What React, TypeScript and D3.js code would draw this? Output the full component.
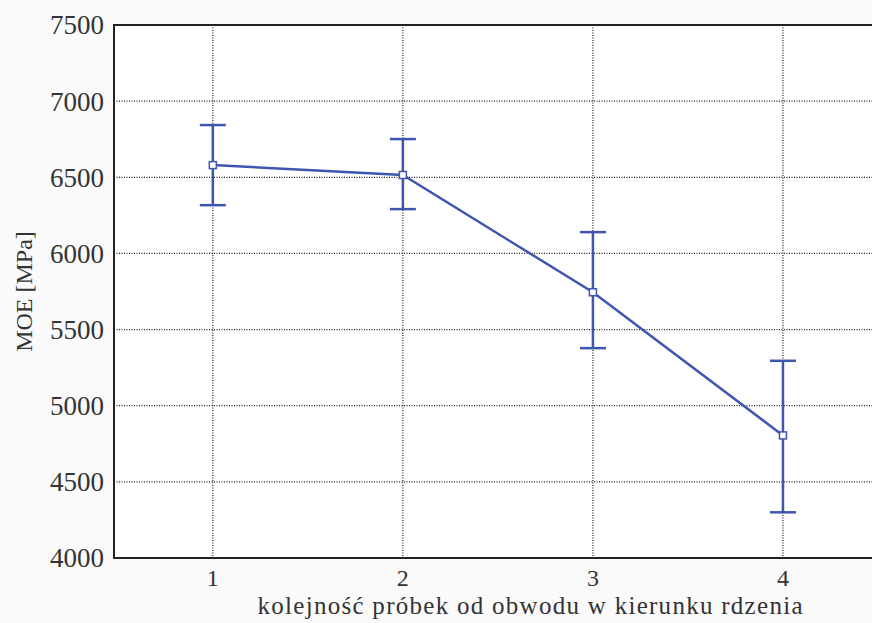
import React from 'react';
import * as d3 from 'd3';

// sample order (from perimeter towards the pith)
const positions = [1, 2, 3, 4];
const moeMean = [6580, 6515, 5745, 4805];
const moeUpper = [6843, 6751, 6140, 5295];
const moeLower = [6317, 6291, 5378, 4300];
const yTicks = [4000, 4500, 5000, 5500, 6000, 6500, 7000, 7500];

const W = 872;
const H = 623;
const left = 114;
const top = 25;
const bottom = 558;

const x = d3.scaleLinear().domain([0.48, 4.6]).range([left, 897]);
const y = d3.scaleLinear().domain([4000, 7500]).range([bottom, top]);

const lineColor = '#3f56b0';
const font = '"Liberation Serif", "Times New Roman", serif';

export default function App() {
  const pts = positions.map((p, i) => ({x: p, y: moeMean[i]}));
  const line = d3.line<{x: number; y: number}>()
    .x(d => x(d.x))
    .y(d => y(d.y));
  const cap = 13;

  return (
    <svg width={W} height={H} style={{position: 'absolute', left: 0, top: 0, background: '#fafafa'}}>
      <rect x={left} y={top} width={W - left} height={bottom - top} fill="#fff"/>
      {/* grid */}
      {yTicks.slice(1, -1).map(t => (
        <line key={'gy' + t} x1={left} x2={W} y1={y(t)} y2={y(t)}
          stroke="#222" strokeWidth={1.2} strokeDasharray="1,1.5"/>
      ))}
      {positions.map(t => (
        <line key={'gx' + t} x1={x(t)} x2={x(t)} y1={top} y2={bottom}
          stroke="#222" strokeWidth={1.2} strokeDasharray="1,1.5"/>
      ))}
      {/* frame */}
      <path d={`M${W},${top}H${left}V${bottom}H${W}`} fill="none" stroke="#222" strokeWidth={2}/>
      {/* y ticks */}
      {yTicks.map(t => (
        <text key={'ty' + t} x={left - 10} y={y(t)} dy="0.35em" textAnchor="end"
          fontFamily={font} fontSize={27} fill="#333">{t}</text>
      ))}
      {positions.map(t => (
        <text key={'tx' + t} x={x(t)} y={586} textAnchor="middle"
          fontFamily={font} fontSize={24} fill="#333">{t}</text>
      ))}
      {/* error bars */}
      {positions.map((p, i) => (
        <g key={'e' + p} stroke={lineColor} strokeWidth={2.5}>
          <line x1={x(p)} x2={x(p)} y1={y(moeUpper[i])} y2={y(moeLower[i])}/>
          <line x1={x(p) - cap} x2={x(p) + cap} y1={y(moeUpper[i])} y2={y(moeUpper[i])}/>
          <line x1={x(p) - cap} x2={x(p) + cap} y1={y(moeLower[i])} y2={y(moeLower[i])}/>
        </g>
      ))}
      <path d={line(pts) || ''} fill="none" stroke={lineColor} strokeWidth={2.5}/>
      {pts.map(d => (
        <rect key={'m' + d.x} x={x(d.x) - 3.5} y={y(d.y) - 3.5} width={7} height={7}
          fill="#fff" stroke={lineColor} strokeWidth={1.5}/>
      ))}
      {/* labels */}
      <text x={530} y={614} textAnchor="middle" fontFamily={font} fontSize={25} fill="#333"
        textLength={545} lengthAdjust="spacing">
        kolejność próbek od obwodu w kierunku rdzenia
      </text>
      <text transform={`translate(32,${(top + bottom) / 2}) rotate(-90)`} textAnchor="middle"
        fontFamily={font} fontSize={24} fill="#333">MOE [MPa]</text>
    </svg>
  );
}
